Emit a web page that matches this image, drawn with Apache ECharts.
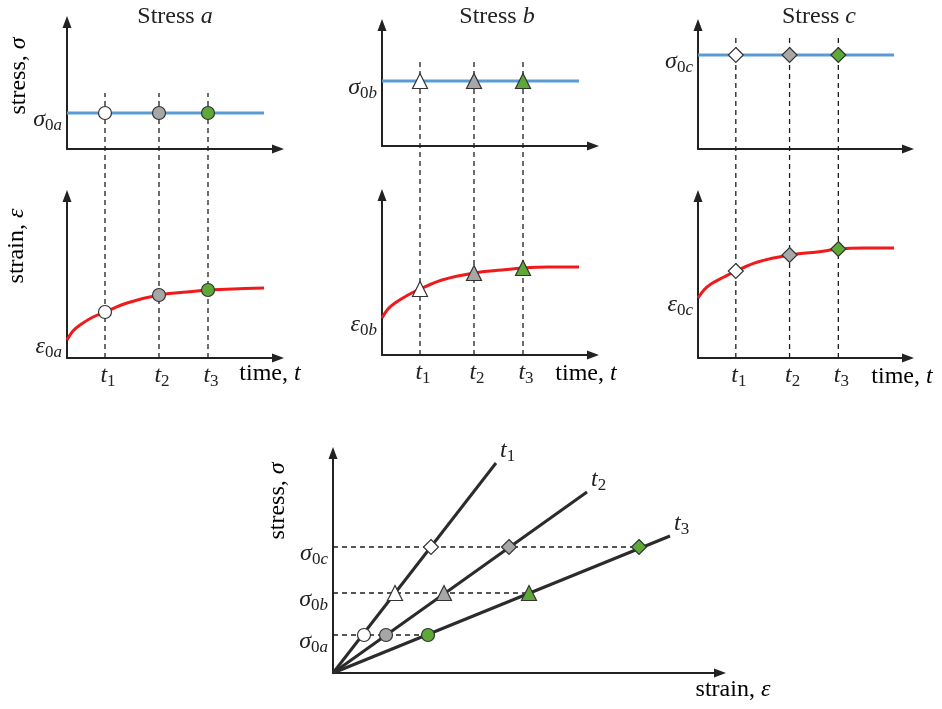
<!DOCTYPE html>
<html>
<head>
<meta charset="utf-8">
<script src="https://cdn.jsdelivr.net/npm/echarts@6/dist/echarts.min.js"></script>
<style>
  html, body { margin: 0; padding: 0; background: #fff; }
  #chart { width: 942px; height: 709px; }
</style>
</head>
<body>
<div id="chart"></div>
<script>
// ---- data -------------------------------------------------------------
// time instants t1, t2, t3 and the end of each creep record (time units)
const timeMarks = [38, 92, 141];
const timeEnd = 197;
const timeMax = 211;
const timeSubs = ['1', '2', '3'];

// constant applied stress of each creep test a, b, c
const stressNames = ['a', 'b', 'c'];
const stressLevels = [36, 65, 94];
const stressMax = [127, 121, 124];

// creep strain histories under stress a, b, c: [time, strain]
const creepA = [[0, 18], [6, 27], [13, 33], [26, 41], [38, 46], [60, 55], [92, 63], [120, 66], [141, 68], [166, 69], [197, 70]];
const creepB = [[0, 37], [6, 46], [13, 52], [26, 60], [38, 66], [60, 75], [92, 82], [120, 85], [141, 87], [166, 88], [197, 88]];
const creepC = [[0, 60], [6, 68], [13, 74], [26, 81], [38, 87], [60, 96], [92, 103], [120, 106], [141, 109], [166, 110], [197, 110]];
const strainMax = [162, 160, 162];

// strain read at t1, t2, t3 for each stress
const strainAtTimesA = [46, 63, 68];
const strainAtTimesB = [66, 82, 87];
const strainAtTimesC = [87, 103, 109];

// isochronous stress-strain curves
const isoStress = [38, 80, 126];          // sigma_0a, sigma_0b, sigma_0c
const isoStrainT1 = [31, 62, 98];
const isoStrainT2 = [53, 111, 176];
const isoStrainT3 = [95, 196, 306];
const isoLineEnds = [[163, 210], [254, 181], [337, 137]];
const isoStrainMax = 387;
const isoStressMax = 220;

// ---- styling -----------------------------------------------------------
const FONT = '"Liberation Serif", "Times New Roman", serif';
const INK = '#222222';
const timeColors = ['#ffffff', '#a7a7a7', '#5ea838'];
const stressSymbols = ['circle', 'triangle', 'diamond'];
const symbolSizes = [13, 15, 15];
const BLUE = '#5b9bd5';
const RED = '#f01a1a';
const DASH = { color: '#1e1e1e', width: 1.3, type: [5, 4] };

function mathRich(size) {
  const sub = Math.round(size * 0.72);
  const drop = Math.round(size * 0.45);
  return {
    v: { fontFamily: FONT, fontStyle: 'italic', fontWeight: 'normal', fontSize: size, color: INK },
    d: { fontFamily: FONT, fontWeight: 'normal', fontSize: sub, color: INK, padding: [drop, 0, 0, 0] },
    s: { fontFamily: FONT, fontStyle: 'italic', fontWeight: 'normal', fontSize: sub, color: INK, padding: [drop, 0, 0, 0] },
    n: { fontFamily: FONT, fontWeight: 'normal', fontSize: size, color: INK }
  };
}

const arrowLine = {
  show: true,
  onZero: false,
  lineStyle: { color: INK, width: 2 },
  symbol: ['none', 'triangle'],
  symbolSize: [9, 12]
};

const markerStyle = { borderColor: '#333', borderWidth: 1.2, opacity: 1 };

// panel geometry (pixels)
const cols = [
  { x: 67, w: 211, sTop: 22, sBot: 149, eTop: 196, eBot: 358, dashTop: 93 },
  { x: 382, w: 211, sTop: 25, sBot: 146, eTop: 195, eBot: 355, dashTop: 62 },
  { x: 698, w: 210, sTop: 25, sBot: 149, eTop: 196, eBot: 358, dashTop: 35 }
];
const creeps = [creepA, creepB, creepC];
const strainsAt = [strainAtTimesA, strainAtTimesB, strainAtTimesC];

const grids = [], xAxes = [], yAxes = [], series = [];

function addGrid(left, top, width, height) {
  grids.push({ left, top, width, height, outerBoundsMode: 'none', containLabel: false });
  return grids.length - 1;
}

function timeAxis(gi, showLabels) {
  return {
    type: 'value', gridIndex: gi, min: 0, max: timeMax,
    axisLine: arrowLine, axisTick: { show: false }, splitLine: { show: false },
    axisLabel: showLabels ? {
      show: true, customValues: timeMarks, margin: 4, padding: [0, 0, 0, 6],
      formatter: v => '{v|t}{d|' + timeSubs[timeMarks.indexOf(v)] + '}',
      rich: mathRich(24)
    } : { show: false }
  };
}

function valueAxis(gi, max, value, sym, name) {
  return {
    type: 'value', gridIndex: gi, min: 0, max: max,
    axisLine: arrowLine, axisTick: { show: false }, splitLine: { show: false },
    axisLabel: {
      show: true, customValues: [value], margin: 5, padding: [14, 0, 0, 0],
      formatter: () => '{v|' + sym + '}{d|0}{s|' + name + '}',
      rich: mathRich(24)
    }
  };
}

cols.forEach((c, i) => {
  // stress history
  const gs = addGrid(c.x, c.sTop, c.w, c.sBot - c.sTop);
  xAxes.push(timeAxis(gs, false));
  yAxes.push(valueAxis(gs, stressMax[i], stressLevels[i], 'σ', stressNames[i]));
  series.push({
    type: 'line', xAxisIndex: gs, yAxisIndex: gs, symbol: 'none', z: 3,
    lineStyle: { color: BLUE, width: 3 },
    data: [[0, stressLevels[i]], [timeEnd, stressLevels[i]]]
  });
  series.push({
    type: 'scatter', xAxisIndex: gs, yAxisIndex: gs, z: 5,
    symbol: stressSymbols[i], symbolSize: symbolSizes[i],
    itemStyle: markerStyle,
    data: timeMarks.map((t, j) => ({ value: [t, stressLevels[i]], itemStyle: { color: timeColors[j] } }))
  });

  // strain response
  const ge = addGrid(c.x, c.eTop, c.w, c.eBot - c.eTop);
  xAxes.push(timeAxis(ge, true));
  yAxes.push(valueAxis(ge, strainMax[i], creeps[i][0][1], 'ε', stressNames[i]));
  series.push({
    type: 'line', xAxisIndex: ge, yAxisIndex: ge, symbol: 'none', z: 3,
    smooth: 0.35,
    lineStyle: { color: RED, width: 3 },
    data: creeps[i]
  });
  series.push({
    type: 'scatter', xAxisIndex: ge, yAxisIndex: ge, z: 5,
    symbol: stressSymbols[i], symbolSize: symbolSizes[i],
    itemStyle: markerStyle,
    data: timeMarks.map((t, j) => ({ value: [t, strainsAt[i][j]], itemStyle: { color: timeColors[j] } }))
  });

  // dashed guides through both panels at t1, t2, t3
  const gd = addGrid(c.x, c.dashTop, c.w, c.eBot - c.dashTop);
  xAxes.push({ type: 'value', gridIndex: gd, min: 0, max: timeMax, show: false });
  yAxes.push({ type: 'value', gridIndex: gd, min: 0, max: 1, show: false });
  timeMarks.forEach(t => {
    series.push({
      type: 'line', xAxisIndex: gd, yAxisIndex: gd, symbol: 'none', z: 1, silent: true,
      lineStyle: DASH,
      data: [[t, 0], [t, 1]]
    });
  });
});

// isochronous stress-strain diagram
const gb = addGrid(333, 453, isoStrainMax, isoStressMax);
xAxes.push({
  type: 'value', gridIndex: gb, min: 0, max: isoStrainMax,
  axisLine: arrowLine, axisTick: { show: false }, splitLine: { show: false }, axisLabel: { show: false }
});
yAxes.push({
  type: 'value', gridIndex: gb, min: 0, max: isoStressMax,
  axisLine: arrowLine, axisTick: { show: false }, splitLine: { show: false },
  axisLabel: {
    show: true, customValues: isoStress, margin: 5, padding: [14, 0, 0, 0],
    formatter: v => '{v|σ}{d|0}{s|' + stressNames[isoStress.indexOf(v)] + '}',
    rich: mathRich(24)
  }
});
const isoStrains = [isoStrainT1, isoStrainT2, isoStrainT3];
isoStress.forEach((s, j) => {
  series.push({
    type: 'line', xAxisIndex: gb, yAxisIndex: gb, symbol: 'none', z: 1, silent: true,
    lineStyle: DASH,
    data: [[0, s], [isoStrainT3[j], s]]
  });
});
isoLineEnds.forEach((end, k) => {
  series.push({
    type: 'line', xAxisIndex: gb, yAxisIndex: gb, symbol: 'none', z: 2,
    lineStyle: { color: '#2b2b2b', width: 3 },
    data: [[0, 0], end],
    endLabel: {
      show: true, distance: 4, offset: [0, -12],
      formatter: () => '{v|t}{d|' + timeSubs[k] + '}',
      rich: mathRich(24)
    }
  });
});
isoStress.forEach((s, j) => {
  series.push({
    type: 'scatter', xAxisIndex: gb, yAxisIndex: gb, z: 5,
    symbol: stressSymbols[j], symbolSize: symbolSizes[j],
    itemStyle: markerStyle,
    data: isoStrains.map((arr, k) => ({ value: [arr[j], s], itemStyle: { color: timeColors[k] } }))
  });
});

// titles and axis names
const titles = cols.map((c, i) => ({
  text: '{n|Stress }{v|' + stressNames[i] + '}',
  left: [170, 492, 814][i], top: 0, textAlign: 'center',
  textStyle: { fontWeight: 'normal', rich: mathRich(24) }
}));

function nameText(x, y, word, sym, rotate) {
  return {
    type: 'text', x, y, rotation: rotate ? Math.PI / 2 : 0, z: 10,
    style: {
      text: '{n|' + word + ', }{v|' + sym + '}', rich: mathRich(24),
      align: 'center', verticalAlign: 'middle'
    }
  };
}

const graphics = [
  nameText(19, 76, 'stress', 'σ', true),
  nameText(17, 246, 'strain', 'ε', true),
  nameText(270, 374, 'time', 't', false),
  nameText(586, 374, 'time', 't', false),
  nameText(902, 377, 'time', 't', false),
  nameText(278, 501, 'stress', 'σ', true),
  nameText(733, 690, 'strain', 'ε', false)
];

const chart = echarts.init(document.getElementById('chart'), null, { renderer: 'canvas' });
chart.setOption({
  animation: false,
  backgroundColor: '#ffffff',
  title: titles,
  grid: grids,
  xAxis: xAxes,
  yAxis: yAxes,
  series: series,
  graphic: graphics
});
</script>
</body>
</html>
